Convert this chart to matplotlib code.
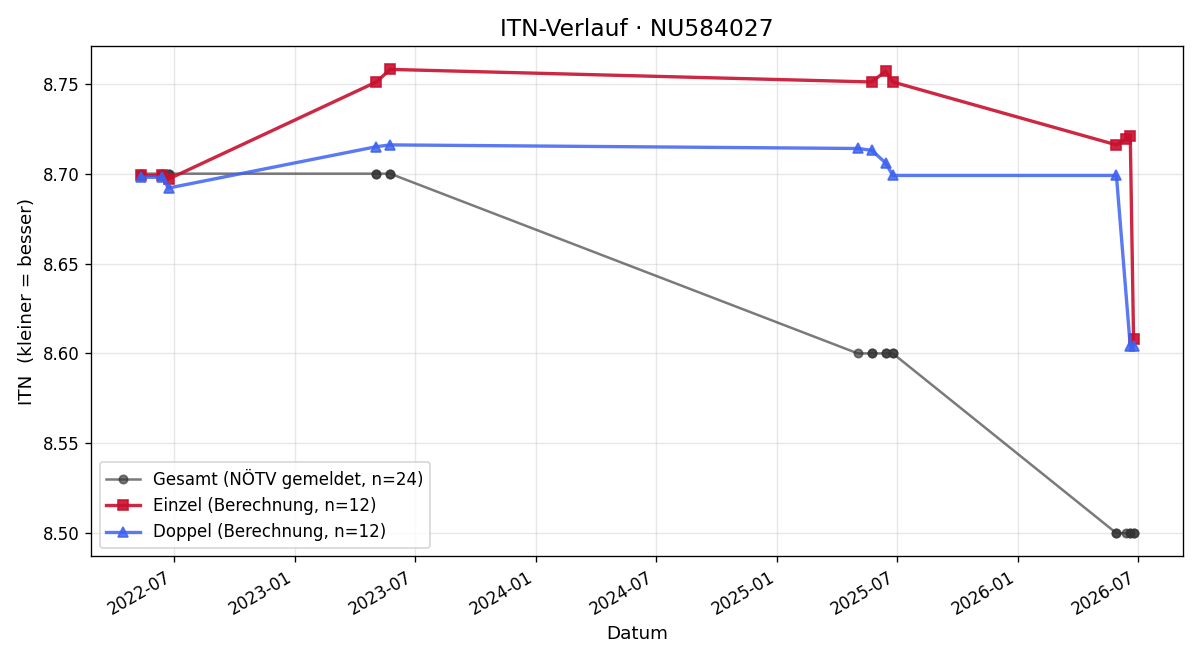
import matplotlib
matplotlib.use("Agg")
import matplotlib.pyplot as plt
import matplotlib.dates as mdates
import pandas as pd

einzel_dates = ["2022-05-12", "2022-06-13", "2022-06-23", "2023-05-04", "2023-05-25",
                "2025-05-24", "2025-06-14", "2025-06-25", "2026-05-30", "2026-06-13",
                "2026-06-20", "2026-06-25"]
einzel_vals = [8.699, 8.699, 8.697, 8.751, 8.758, 8.751, 8.757, 8.751, 8.716, 8.719, 8.721, 8.608]

doppel_dates = ["2022-05-12", "2022-06-13", "2022-06-23", "2023-05-04", "2023-05-25",
                "2025-05-03", "2025-05-24", "2025-06-14", "2025-06-25", "2026-05-30",
                "2026-06-20", "2026-06-25"]
doppel_vals = [8.698, 8.698, 8.692, 8.715, 8.716, 8.714, 8.713, 8.706, 8.699, 8.699, 8.604, 8.604]

gesamt_dates = sorted(einzel_dates + doppel_dates)
gesamt_vals = [8.70 if d < "2024" else (8.60 if d < "2026" else 8.50) for d in gesamt_dates]

fig, ax = plt.subplots(figsize=(10, 5.5), dpi=120)
ax.plot(pd.to_datetime(gesamt_dates), gesamt_vals, marker="o", color="#333333", alpha=0.65,
        linewidth=1.5, markersize=5, label="Gesamt (NÖTV gemeldet, n=24)")
ax.plot(pd.to_datetime(einzel_dates), einzel_vals, marker="s", color="#C8102E", alpha=0.9,
        linewidth=2, markersize=6, label="Einzel (Berechnung, n=12)")
ax.plot(pd.to_datetime(doppel_dates), doppel_vals, marker="^", color="#3D62F0", alpha=0.85,
        linewidth=2, markersize=6, label="Doppel (Berechnung, n=12)")

ax.xaxis.set_major_locator(mdates.MonthLocator(bymonth=[1, 7]))
ax.xaxis.set_major_formatter(mdates.DateFormatter("%Y-%m"))
ax.grid(True, alpha=0.3)
ax.set_title("ITN-Verlauf · NU584027", fontsize=14)
ax.set_xlabel("Datum", fontsize=11)
ax.set_ylabel("ITN  (kleiner = besser)", fontsize=11)
ax.legend(loc="lower left", fontsize=10)
fig.autofmt_xdate()
fig.subplots_adjust(left=0.076, right=0.986, top=0.93, bottom=0.157)
fig.savefig("out.png")
